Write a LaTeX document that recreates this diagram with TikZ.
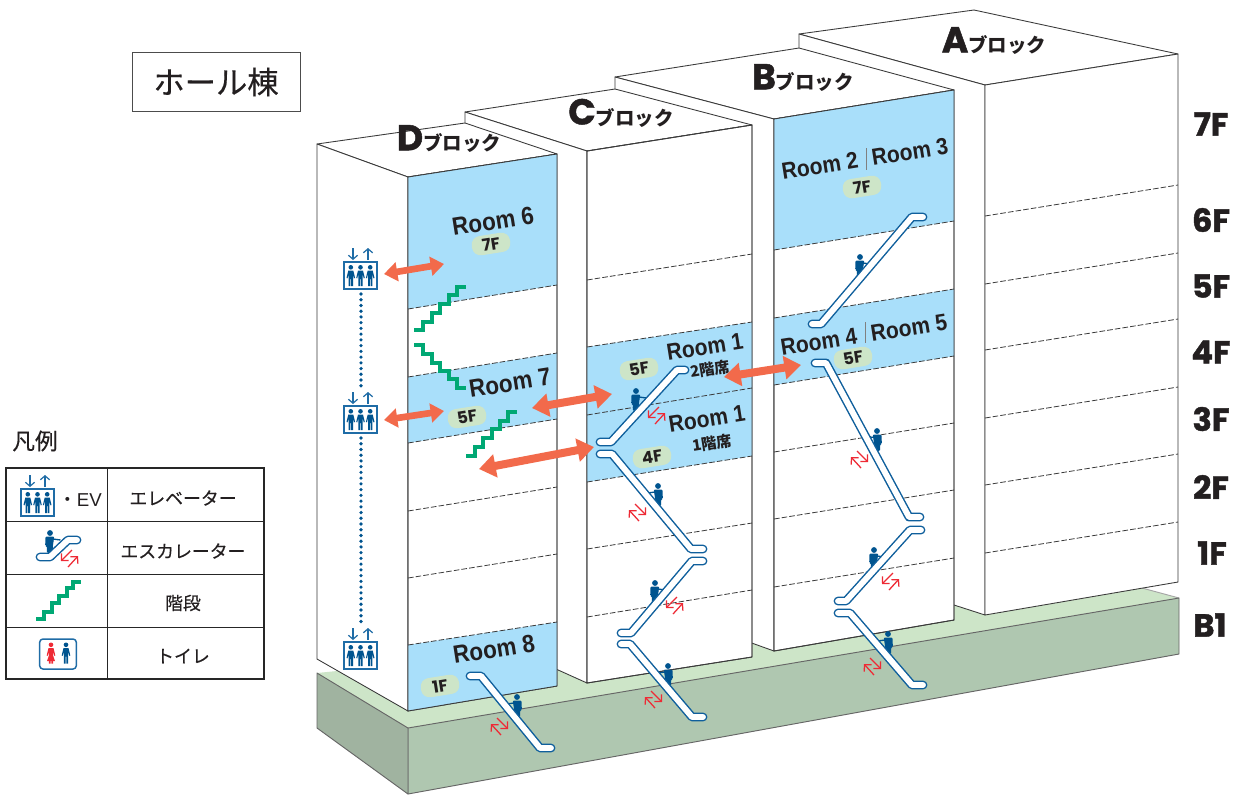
\documentclass[tikz,border=0pt]{standalone}
\usepackage{fontspec}
\usepackage{graphicx}
\usetikzlibrary{arrows.meta}
\setmainfont{Liberation Sans}
\newfontfamily\jpf{Noto Sans CJK JP}
\newfontfamily\jpm[FakeBold=0.35]{Noto Sans CJK JP}
\newfontfamily\popf{Poppins}
\newfontfamily\hvf[FakeBold=1.3]{Poppins Bold}
\definecolor{roomblue}{HTML}{A9DFFA}
\definecolor{gtop}{HTML}{CDE5C8}
\definecolor{gfront}{HTML}{AFC7B0}
\definecolor{gleft}{HTML}{A0B3A0}
\definecolor{edge}{HTML}{3A3A3A}
\definecolor{iconblue}{HTML}{1F6CA6}
\definecolor{dk}{HTML}{00548F}
\definecolor{esc}{HTML}{0F5F9C}
\definecolor{stair}{HTML}{00A874}
\definecolor{orng}{HTML}{F26A4B}
\definecolor{redic}{HTML}{EE2A35}
\definecolor{inkc}{HTML}{231F20}
\tikzset{
 x=0.75pt,y=-0.75pt,
 wall/.style={fill=white,draw=edge,line width=0.65pt,line join=round},
 room/.style={fill=roomblue},
 floorline/.style={draw=edge,line width=0.6pt,dash pattern=on 4.2pt off 1.6pt},
 baseedge/.style={draw=black!60,line width=0.7pt,line join=round},
 escO/.style={draw=esc,line width=6.6pt,line cap=round,line join=round},
 escI/.style={draw=white,line width=4.4pt,line cap=round,line join=round},
 stairs/.style={draw=stair,line width=2.5pt,line join=miter},
 smallarrow/.style={draw=orng,line width=5pt,{Triangle[length=10pt,width=14pt,fill=orng]}-{Triangle[length=10pt,width=14pt,fill=orng]}},
 bigarrow/.style={draw=orng,line width=6pt,{Triangle[length=12.5pt,width=17pt,fill=orng]}-{Triangle[length=12.5pt,width=17pt,fill=orng]}},
 dots/.style={draw=dk,line width=2.7pt,line cap=round,dash pattern=on 0pt off 4.3pt},
 roomtxt/.style={inner sep=0pt,text=inkc,font=\bfseries\fontsize{18.7}{19}\selectfont,rotate=9},
 roomsm/.style={inner sep=0pt,text=inkc,font=\bfseries\fontsize{17.5}{18}\selectfont,rotate=9},
 subtxt/.style={inner sep=0pt,text=inkc,font=\jpf\bfseries\fontsize{11.5}{12}\selectfont,rotate=9},
 pill/.style={fill=gtop,rounded corners=6.5pt,minimum width=29pt,minimum height=14.5pt,inner sep=0pt,text=inkc,font=\popf\bfseries\fontsize{12.5}{13}\selectfont,rotate=9},
 flr/.style={inner sep=0pt,text=inkc,font=\hvf\fontsize{24}{24}\selectfont},
 blk/.style={inner sep=0pt,text=inkc},
 evbox/.style={draw=iconblue,line width=1.1pt,fill=white,minimum width=24.5pt,minimum height=20pt,inner sep=0pt},
 legtxt/.style={inner sep=0pt,text=inkc,font=\jpm\fontsize{13.4}{14}\selectfont},
 thinarr/.style={draw=iconblue,line width=0.9pt,-{Straight Barb[length=3pt,width=7pt]}},
 redarr/.style={draw=redic,line width=0.95pt,-{Straight Barb[length=3.6pt,width=7.5pt]}},
}
\newcommand{\nrw}[1]{\scalebox{0.9}[1]{#1}}
\newcommand{\pict}[3]{\fill[#3,shift={(#1,#2)}] (0,2.3) circle (2.3) (-2.5,5.5)--(2.5,5.5)--(4.3,13)--(3.2,13.3)--(2.2,9)--(2.2,21)--(0.4,21)--(0.4,14)--(-0.4,14)--(-0.4,21)--(-2.2,21)--(-2.2,9)--(-3.2,13.3)--(-4.3,13)--cycle;}
\newcommand{\evicon}[3]{%
 \node[evbox] (#1) at (#2,#3) {};
 \pict{#2-9.7}{#3-10.5}{dk}\pict{#2}{#3-10.5}{dk}\pict{#2+9.7}{#3-10.5}{dk}
 \coordinate (#1d1) at (#2-7.5,#3-27.5); \coordinate (#1d2) at (#2-7.5,#3-15.5);
 \coordinate (#1u1) at (#2+7.5,#3-15.5); \coordinate (#1u2) at (#2+7.5,#3-27.5);
 \draw[thinarr] (#1d1) -- (#1d2);
 \draw[thinarr] (#1u1) -- (#1u2);
}
\newcommand{\rider}[3]{\begin{scope}[shift={(#1,#2)},xscale=#3]
 \fill[dk] (0,0) circle (2.9);
 \fill[dk,rounded corners=0.8pt] (-4.3,3.6)--(4.6,3.6)--(4.8,13)--(3.3,13)--(3,20)--(-2.5,20)--(-3,12)--cycle;
 \draw[dk,line width=1pt] (-3,6)--(-10.5,7);
 \end{scope}}
\newcommand{\escal}[1]{\draw[escO] #1; \draw[escI] #1;}
\newcommand{\redpair}[3]{\begin{scope}[shift={(#1,#2)},xscale=#3]
 \draw[redarr] (2,9)--(-8,-2);
 \draw[redarr] (-2,-8)--(9,3);
 \end{scope}}
\newcommand{\blocktitle}[1]{{\hvf\fontsize{27}{27}\selectfont #1}{\jpf\bfseries\fontsize{14.6}{15}\selectfont\raisebox{-0.5pt}{ブロック}}}
\begin{document}
\begin{tikzpicture}
\useasboundingbox (0,0) rectangle (1237,794);
% ---- base
\fill[gtop] (317,673)--(408,728)--(1179,598)--(1142,588)--(1100,560)--(500,600)--(337,671)--cycle;
\draw[baseedge,draw=black!35] (1142,588)--(1179,598);
\draw[fill=gfront,baseedge] (408,728)--(1179,598)--(1179,654)--(408,794)--cycle;
\draw[fill=gleft,baseedge] (317,673)--(408,728)--(408,794)--(317,728)--cycle;
% ---- block A
\path[wall] (799,34)--(974,10)--(1178,54)--(985,85)--cycle;
\path[wall] (799,34)--(985,85)--(985,615)--(799,555)--cycle;
\path[wall] (985,85)--(1178,54)--(1178,582)--(985,615)--cycle;
\draw[floorline] (985,216)--(1178,185) (985,284)--(1178,253) (985,350)--(1178,319) (985,418)--(1178,387) (985,485)--(1178,454) (985,553)--(1178,522);
% ---- block B
\path[wall] (615,77)--(799,48)--(954,90)--(774,119)--cycle;
\path[wall] (615,77)--(774,119)--(774,651)--(615,594)--cycle;
\path[wall] (774,119)--(954,90)--(954,620)--(774,651)--cycle;
\fill[room] (774,119)--(954,90)--(954,221)--(774,250)--cycle;
\fill[room] (774,318)--(954,289)--(954,356)--(774,385)--cycle;
\draw[edge,line width=0.65pt] (774,119)--(954,90)--(954,620)--(774,651)--cycle;
\draw[floorline] (774,250)--(954,221) (774,318)--(954,289) (774,385)--(954,356) (774,452)--(954,423) (774,519)--(954,490) (774,587)--(954,558);
% ---- block C
\path[wall] (465,112)--(615,89)--(752,125)--(587,151)--cycle;
\path[wall] (465,112)--(587,151)--(587,683)--(465,628)--cycle;
\path[wall] (587,151)--(752,125)--(752,657)--(587,683)--cycle;
\fill[room] (587,347)--(752,322)--(752,456)--(587,482)--cycle;
\draw[edge,line width=0.65pt] (587,151)--(752,125)--(752,657)--(587,683)--cycle;
\draw[floorline] (587,280)--(752,254) (587,347)--(752,322) (587,415)--(752,388) (587,482)--(752,456) (587,549)--(752,523) (587,617)--(752,590);
% ---- block D
\path[wall] (317,144)--(465,123)--(557,154)--(408,177)--cycle;
\path[wall] (317,144)--(408,177)--(408,711)--(317,659)--cycle;
\path[wall] (408,177)--(557,154)--(557,686)--(408,711)--cycle;
\fill[room] (408,177)--(557,154)--(557,285)--(408,309)--cycle;
\fill[room] (408,377)--(557,353)--(557,419)--(408,443)--cycle;
\fill[room] (408,645)--(557,622)--(557,686)--(408,711)--cycle;
\draw[edge,line width=0.65pt] (408,177)--(557,154)--(557,686)--(408,711)--cycle;
\draw[floorline] (408,309)--(557,285) (408,377)--(557,353) (408,443)--(557,419) (408,511)--(557,487) (408,578)--(557,554) (408,645)--(557,622);
% ---- title & legend
\node[draw=black!70,line width=0.6pt,minimum width=126pt,minimum height=44pt,inner sep=0pt,font=\jpm\fontsize{23.5}{24}\selectfont,text=inkc] (title) at (216,82) {ホール棟};
\node[legtxt,font=\jpm\fontsize{17}{18}\selectfont] (hanrei) at (35,441) {凡例};
\draw[black!85,line width=0.9pt] (6,468) rectangle (264,679);
\draw[black!85,line width=0.7pt] (107,468)--(107,679) (6,521)--(264,521) (6,574)--(264,574) (6,627)--(264,627);
\node[legtxt] (l1) at (183,498) {エレベーター};
\node[legtxt] (l2) at (183,551) {エスカレーター};
\node[legtxt] (l3) at (183,603) {階段};
\node[legtxt] (l4) at (183,656) {トイレ};
\node[inner sep=0pt,text=inkc,font=\fontsize{14}{14}\selectfont] (l1b) at (80,500) {{\jpf ・}EV};
\evicon{evl}{37.5}{502.5}
\rider{50}{533}{-1}
\escal{(40,557)--(50,557)--(68,540)--(77,540)}
\redpair{70}{558}{-1}
\draw[stairs] (36,619)--(44,619)--(44,612)--(52,612)--(52,603)--(59,603)--(59,596)--(67,596)--(67,588)--(73,588)--(73,582)--(81,582);
\node[draw=iconblue,line width=1.1pt,rounded corners=2.5pt,minimum width=27.5pt,minimum height=22.5pt,inner sep=0pt] (wc) at (58,654) {};
\pict{51}{642.5}{redic}
\fill[redic] (51,650)--(47,661)--(55,661)--cycle;
\pict{66}{642.5}{dk}
% ---- block titles
\node[blk] (tD) at (449,139) {\blocktitle{D}};
\node[blk] (tC) at (621,113) {\blocktitle{C}};
\node[blk] (tB) at (803,78) {\blocktitle{B}};
\node[blk] (tA) at (994,41) {\blocktitle{A}};
% ---- floor labels
\node[flr] (f7) at (1211,124) {7F};
\node[flr] (f6) at (1211,220) {6F};
\node[flr] (f5) at (1211,286) {5F};
\node[flr] (f4) at (1211,352) {4F};
\node[flr] (f3) at (1211,419) {3F};
\node[flr] (f2) at (1211,487) {2F};
\node[flr] (f1) at (1212,553) {1F};
\node[flr] (fb) at (1210,625) {B1};
% ---- room labels
\node[roomtxt] (r6t) at (493,221) {\nrw{Room 6}};
\node[pill] (p7d) at (491,244) {7F};
\node[roomtxt] (r7) at (510,383) {\nrw{Room 7}};
\node[pill] (p5d) at (467,417) {5F};
\node[roomsm] (r1a) at (705,347) {\nrw{Room 1}};
\node[subtxt] (s2) at (710,369) {2階席};
\node[pill] (p5c) at (639,369) {5F};
\node[roomsm] (r1b) at (707,419) {\nrw{Room 1}};
\node[subtxt] (s1) at (712,443) {1階席};
\node[pill] (p4c) at (652,457) {4F};
\node[roomsm] (r2) at (820,166) {\nrw{Room 2}};
\node[roomsm] (r3) at (910,152) {\nrw{Room 3}};
\draw[black!50,line width=0.5pt] (866,148)--(866,170);
\node[pill] (p7b) at (862,187) {7F};
\node[roomsm] (r4) at (819,342) {\nrw{Room 4}};
\node[roomsm] (r5) at (909,328) {\nrw{Room 5}};
\draw[black!50,line width=0.5pt] (865,322)--(865,343);
\node[pill] (p5b) at (853,358) {5F};
\node[roomtxt] (r8) at (494,649) {\nrw{Room 8}};
\node[pill] (p1d) at (440,686) {1F};
% ---- stairs
\draw[stairs] (414,330)--(423,330)--(423,322)--(432,322)--(432,313)--(440,313)--(440,304)--(449,304)--(449,295)--(457,295)--(457,287)--(466,287);
\draw[stairs] (414,345)--(423,345)--(423,354)--(432,354)--(432,363)--(440,363)--(440,371)--(449,371)--(449,379)--(457,379)--(457,388)--(466,388);
\draw[stairs] (466,456)--(475,456)--(475,447)--(483,447)--(483,438)--(492,438)--(492,429)--(500,429)--(500,421)--(508,421)--(508,412)--(517,412);
% ---- riders
\rider{517}{697}{1}
\rider{668}{666}{1}
\rider{655}{583}{-1}
\rider{658}{486}{1}
\rider{636}{391}{-1}
\rider{860}{257}{-1}
\rider{877}{431}{1}
\rider{874}{550}{-1}
\rider{888}{634}{1}
% ---- escalators
\escal{(470,676)--(481,676)--(540,748)--(551,748)}
\escal{(621,644)--(630,644)--(692,717)--(703,717)}
\escal{(621,633)--(631,633)--(692,561)--(703,561)}
\escal{(703,549)--(691,549)--(612,454)--(600,454)}
\escal{(600,442)--(611,442)--(677,370)--(685,370)}
\escal{(923,217)--(912,217)--(821,324)--(812,324)}
\escal{(815,363)--(826,363)--(909,517)--(920,517)}
\escal{(921,530)--(910,530)--(846,601)--(838,601)}
\escal{(838,613)--(850,613)--(912,685)--(923,685)}
% ---- red arrows
\redpair{499}{726}{1}
\redpair{653}{699}{1}
\redpair{675}{605}{-1}
\redpair{637}{512}{1}
\redpair{657}{415}{-1}
\redpair{859}{459}{1}
\redpair{891}{581}{-1}
\redpair{872}{666}{1}
% ---- elevators
\evicon{ev1}{360.5}{275.5}
\evicon{ev2}{360.5}{419.5}
\evicon{ev3}{360.5}{655.5}
\coordinate (ev1b) at (361,294);
\coordinate (ev2a) at (361,387);
\coordinate (ev2b) at (361,438);
\coordinate (ev3a) at (361,623);
\draw[dots] (ev1b) -- (ev2a);
\draw[dots] (ev2b) -- (ev3a);
% ---- walkway arrows
\coordinate (a1a) at (384,274); \coordinate (a1b) at (444,264);
\coordinate (a2a) at (384,420); \coordinate (a2b) at (444,411);
\coordinate (a3a) at (532,408); \coordinate (a3b) at (612,394);
\coordinate (a4a) at (479,469); \coordinate (a4b) at (594,447);
\coordinate (a5a) at (724,377); \coordinate (a5b) at (801,365);
\draw[smallarrow] (a1a) -- (a1b);
\draw[smallarrow] (a2a) -- (a2b);
\draw[bigarrow] (a3a) -- (a3b);
\draw[bigarrow] (a4a) -- (a4b);
\draw[bigarrow] (a5a) -- (a5b);
\end{tikzpicture}
\end{document}
